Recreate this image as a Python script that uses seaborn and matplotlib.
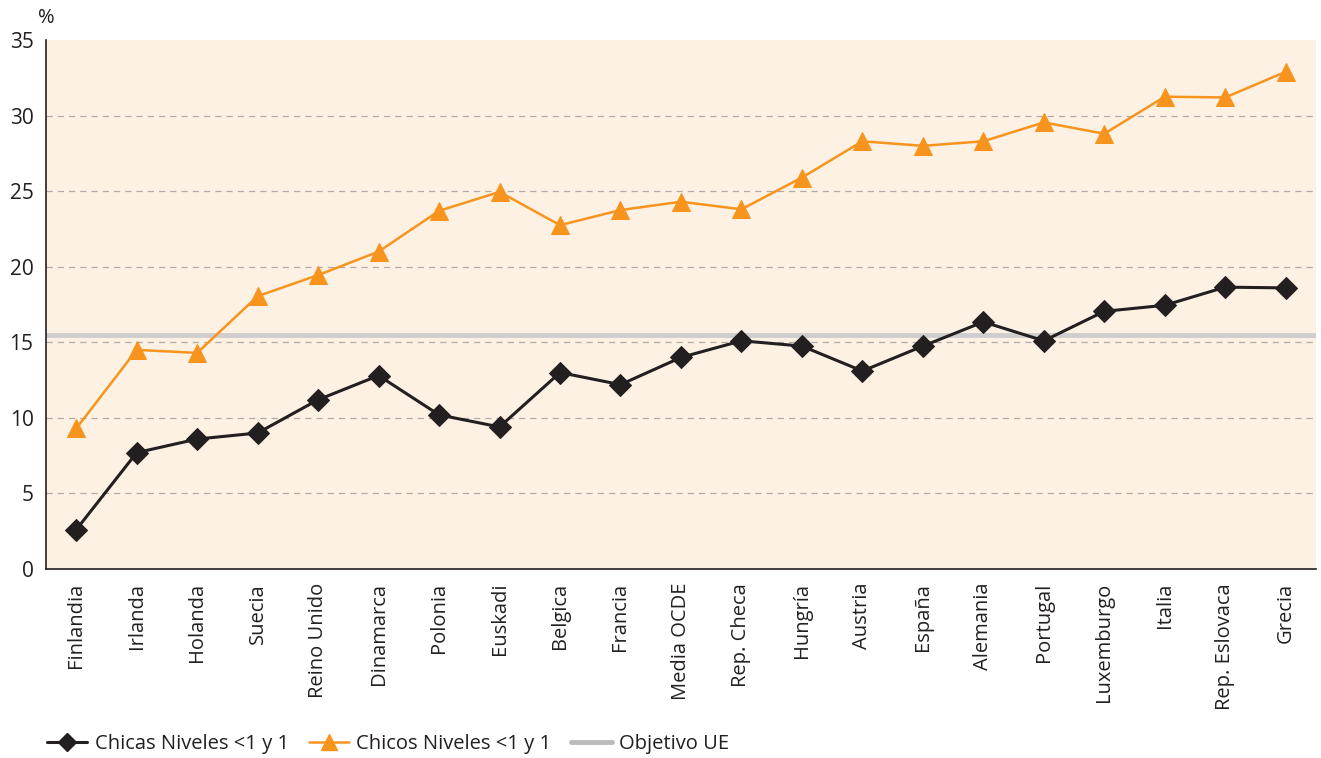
import matplotlib
matplotlib.use("Agg")
import matplotlib.pyplot as plt
import seaborn as sns
import pandas as pd
from matplotlib.lines import Line2D

categorias = ["Finlandia", "Irlanda", "Holanda", "Suecia", "Reino Unido", "Dinamarca",
              "Polonia", "Euskadi", "Belgica", "Francia", "Media OCDE", "Rep. Checa",
              "Hungría", "Austria", "España", "Alemania", "Portugal", "Luxemburgo",
              "Italia", "Rep. Eslovaca", "Grecia"]
chicas = [2.6, 7.7, 8.6, 9.0, 11.2, 12.8, 10.2, 9.4, 13.0, 12.2, 14.0, 15.1,
          14.75, 13.1, 14.75, 16.35, 15.1, 17.05, 17.45, 18.65, 18.6]
chicos = [9.3, 14.5, 14.3, 18.05, 19.45, 21.0, 23.7, 24.95, 22.75, 23.75, 24.3, 23.8,
          25.9, 28.3, 28.0, 28.3, 29.55, 28.8, 31.25, 31.2, 32.9]
objetivo_ue = 15.5
yticks = [0, 5, 10, 15, 20, 25, 30, 35]

sns.set_theme(style="white")
plt.rcParams['font.family'] = ['Open Sans', 'DejaVu Sans']

df = pd.DataFrame({"pais": categorias, "pos": range(len(categorias)),
                   "chicas": chicas, "chicos": chicos})

fig = plt.figure(figsize=(13.21, 7.58), dpi=100)
ax = fig.add_axes([0.0348, 0.2493, 0.9614, 0.6979])
ax.set_facecolor("#FDF1E3")

for y in yticks[1:-1]:
    ax.axhline(y, color="#B0ABA8", lw=0.9, ls=(0, (5, 4)), zorder=1)
ax.axhline(objetivo_ue, color="#CFCDCD", lw=3.5, zorder=2)

orange = "#F7941D"
black = "#231F20"
sns.lineplot(data=df, x="pos", y="chicos", ax=ax, color=orange, lw=1.8, marker="^",
             markersize=13, markeredgecolor=orange, sort=False, zorder=3)
sns.lineplot(data=df, x="pos", y="chicas", ax=ax, color=black, lw=2.2, marker="D",
             markersize=11, markeredgecolor=black, sort=False, zorder=4)

ax.set_xlim(-0.5, len(categorias) - 0.5)
ax.set_ylim(0, 35)
ax.set_yticks(yticks)
ax.set_xticks(range(len(categorias)))
ax.set_xticklabels(categorias, rotation=90, fontsize=14.5, color="#231F20")
ax.set_xticks([i - 0.5 for i in range(len(categorias) + 1)], minor=True)
ax.tick_params(axis="x", which="major", length=0, pad=10)
ax.tick_params(axis="x", which="minor", length=6, width=1, color="#231F20", direction="out")
ax.tick_params(axis="y", length=6, width=1, color="#231F20", direction="out",
               labelsize=15, labelcolor="#231F20", pad=3)
ax.set_xlabel("")
ax.set_ylabel("")
for s in ["top", "right"]:
    ax.spines[s].set_visible(False)
for s in ["left", "bottom"]:
    ax.spines[s].set_color("#231F20")
    ax.spines[s].set_linewidth(1.2)

fig.text(0.0285, 0.976, "%", fontsize=14.5, color="#231F20", ha="left", va="center")

handles = [
    Line2D([], [], color=black, lw=2.2, marker="D", markersize=9),
    Line2D([], [], color=orange, lw=1.8, marker="^", markersize=11),
    Line2D([], [], color="#BDBBBB", lw=3.5),
]
labels = ["Chicas Niveles <1 y 1", "Chicos Niveles <1 y 1", "Objetivo UE"]
fig.legend(handles, labels, loc="center left", bbox_to_anchor=(0.022, 0.019), ncol=3,
           frameon=False, fontsize=14.5, handlelength=2.0, handletextpad=0.35,
           columnspacing=1.0, labelcolor="#231F20")

fig.savefig("out.png", dpi=100)
